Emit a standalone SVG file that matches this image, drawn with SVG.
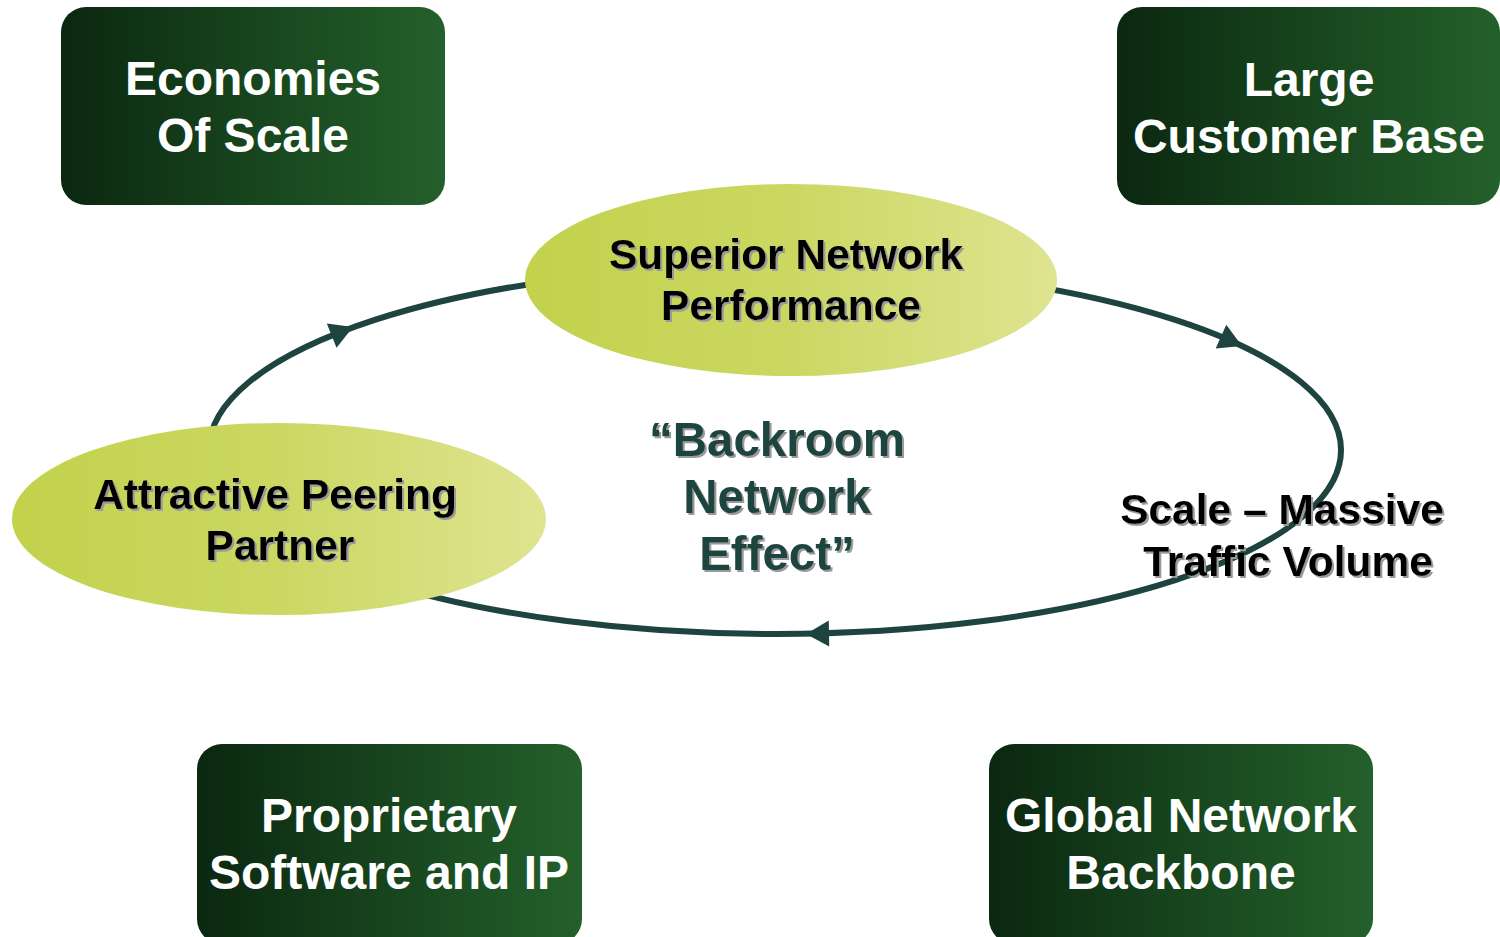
<svg xmlns="http://www.w3.org/2000/svg" xmlns:xlink="http://www.w3.org/1999/xlink" width="1500" height="937" viewBox="0 0 1500 937">
  <defs>
    <linearGradient id="boxGrad" x1="0" y1="0" x2="1" y2="0">
      <stop offset="0" stop-color="#0b2710"/>
      <stop offset="0.45" stop-color="#16421c"/>
      <stop offset="1" stop-color="#24602b"/>
    </linearGradient>
    <linearGradient id="ovalGrad" x1="0" y1="0" x2="1" y2="0">
      <stop offset="0" stop-color="#c2d24c"/>
      <stop offset="0.5" stop-color="#cad862"/>
      <stop offset="1" stop-color="#dfe491"/>
    </linearGradient>
    <filter id="shadow" x="-10%" y="-20%" width="120%" height="150%">
      <feDropShadow dx="2" dy="2" stdDeviation="0.6" flood-color="#9a9a9a" flood-opacity="1"/>
    </filter>
    <path id="arrowHead" d="M0,0 L-23,-13 L-23,13 Z"/>
  </defs>
  <style>
    .box { fill: url(#boxGrad); }
    .oval { fill: url(#ovalGrad); }
    .boxText { font-family: "Liberation Sans", Arial, sans-serif; font-weight: bold; font-size: 48px; fill: #ffffff; text-anchor: middle; }
    .ovalText { font-family: "Liberation Sans", Arial, sans-serif; font-weight: bold; font-size: 42.5px; fill: #000000; text-anchor: middle; filter: url(#shadow); }
    .centerText { font-family: "Liberation Sans", Arial, sans-serif; font-weight: bold; font-size: 47.5px; fill: #1e4440; text-anchor: middle; filter: url(#shadow); }
    .loop { fill: none; stroke: #1e4440; stroke-width: 6; }
    .arrow { fill: #1e4440; }
  </style>
  <rect width="1500" height="937" fill="#ffffff"/>

  <g id="connectors">
    <ellipse class="loop" cx="775" cy="450" rx="566" ry="184"/>
    <use class="arrow" xlink:href="#arrowHead" transform="translate(353,327) rotate(-22)"/>
    <use class="arrow" xlink:href="#arrowHead" transform="translate(1242,346) rotate(24)"/>
    <use class="arrow" xlink:href="#arrowHead" transform="translate(806,634) rotate(179)"/>
  </g>

  <g id="economies-of-scale">
    <rect class="box" x="61" y="7" width="384" height="198" rx="25" ry="25"/>
    <text class="boxText" x="253" y="95">Economies</text>
    <text class="boxText" x="253" y="152">Of Scale</text>
  </g>

  <g id="large-customer-base">
    <rect class="box" x="1117" y="7" width="383" height="198" rx="25" ry="25"/>
    <text class="boxText" x="1309" y="96">Large</text>
    <text class="boxText" x="1309" y="153">Customer Base</text>
  </g>

  <g id="proprietary-software">
    <rect class="box" x="197" y="744" width="385" height="200" rx="25" ry="25"/>
    <text class="boxText" x="389" y="832">Proprietary</text>
    <text class="boxText" x="389" y="889">Software and IP</text>
  </g>

  <g id="global-network-backbone">
    <rect class="box" x="989" y="744" width="384" height="200" rx="25" ry="25"/>
    <text class="boxText" x="1181" y="832">Global Network</text>
    <text class="boxText" x="1181" y="889">Backbone</text>
  </g>

  <g id="superior-network-performance">
    <ellipse class="oval" cx="791" cy="280" rx="266" ry="96"/>
    <text class="ovalText" x="786" y="269">Superior Network</text>
    <text class="ovalText" x="791" y="320">Performance</text>
  </g>

  <g id="attractive-peering-partner">
    <ellipse class="oval" cx="279" cy="519" rx="267" ry="96"/>
    <text class="ovalText" x="275" y="509">Attractive Peering</text>
    <text class="ovalText" x="280" y="560">Partner</text>
  </g>

  <g id="scale-massive-traffic">
    <text class="ovalText" x="1282" y="524">Scale – Massive</text>
    <text class="ovalText" x="1288" y="576">Traffic Volume</text>
  </g>

  <g id="backroom-network-effect">
    <text class="centerText" x="777" y="456">“Backroom</text>
    <text class="centerText" x="777" y="513">Network</text>
    <text class="centerText" x="777" y="570">Effect”</text>
  </g>
</svg>
